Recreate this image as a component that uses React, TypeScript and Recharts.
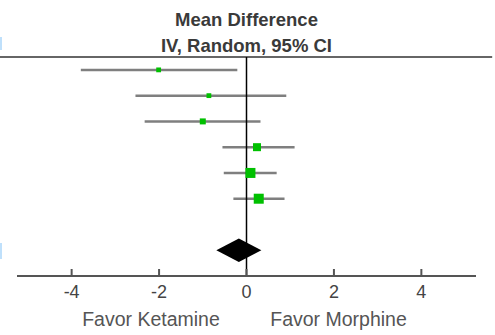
import React from "react";
import {
  ComposedChart,
  XAxis,
  YAxis,
  Scatter,
  ErrorBar,
  ReferenceLine,
  ReferenceArea,
  Customized,
} from "recharts";

// ---- data ----
const studyRows = [1, 2, 3, 4, 5, 6];
const meanDiff = [-2.01, -0.86, -1.0, 0.24, 0.09, 0.28];
const ciLower = [-3.79, -2.54, -2.33, -0.55, -0.52, -0.3];
const ciUpper = [-0.21, 0.91, 0.32, 1.1, 0.69, 0.87];
const weights = [7, 7, 10, 15, 20, 20];

const pooledRow = 8;
const pooledMean = -0.18;
const pooledLower = -0.69;
const pooledUpper = 0.34;

const xTicks = [-4, -2, 0, 2, 4];
const headerLines = ["Mean Difference", "IV, Random, 95% CI"];
const favorLeft = "Favor Ketamine";
const favorRight = "Favor Morphine";

const FONT = "'Liberation Sans', Arial, sans-serif";

const tableData = studyRows.map((row, i) => ({
  row,
  md: meanDiff[i],
  err: [meanDiff[i] - ciLower[i], ciUpper[i] - meanDiff[i]],
  w: weights[i],
}));

const SquareShape = (props: any) => {
  const { cx, cy, payload } = props;
  const s = 2 + payload.w * 0.4;
  return <rect x={cx - s / 2} y={cy - s / 2} width={s} height={s} fill="#00c000" />;
};

const EmptyShape = () => <g />;

const DiamondShape = (props: any) => {
  const { x, y, width, height } = props;
  const pts = [
    [x, y + height / 2],
    [x + width / 2, y],
    [x + width, y + height / 2],
    [x + width / 2, y + height],
  ]
    .map((p) => p.join(","))
    .join(" ");
  return <polygon points={pts} fill="#000" />;
};

const TickUp = (props: any) => {
  const { x, y, payload } = props;
  return (
    <g>
      <line x1={x} x2={x} y1={y - 7} y2={y} stroke="#555" strokeWidth={2} />
      <text
        x={x}
        y={y + 22}
        textAnchor="middle"
        fontFamily={FONT}
        fontSize={18}
        fill="#444"
      >
        {payload.value}
      </text>
    </g>
  );
};

const Decorations = () => (
  <g>
    <rect x={0} y={37} width={2} height={13} fill="#bfe0fb" />
    <rect x={0} y={243} width={2} height={16} fill="#bfe0fb" />
    <text
      x={246.5}
      y={26}
      textAnchor="middle"
      fontFamily={FONT}
      fontSize={18.5}
      fontWeight="bold"
      fill="#3a3a3a"
    >
      {headerLines[0]}
    </text>
    <text
      x={246.5}
      y={52}
      textAnchor="middle"
      fontFamily={FONT}
      fontSize={18.5}
      fontWeight="bold"
      fill="#3a3a3a"
    >
      {headerLines[1]}
    </text>
    <text
      x={151}
      y={326}
      textAnchor="middle"
      fontFamily={FONT}
      fontSize={19.5}
      fill="#555"
    >
      {favorLeft}
    </text>
    <text
      x={338.5}
      y={326}
      textAnchor="middle"
      fontFamily={FONT}
      fontSize={19.5}
      fill="#555"
    >
      {favorRight}
    </text>
  </g>
);

export default function App() {
  return (
    <div style={{ position: "absolute", left: 0, top: 0, background: "#fff" }}>
      <ComposedChart
        width={495}
        height={335}
        data={tableData}
        margin={{ top: 57, right: 19, bottom: 29, left: 17 }}
      >
        <XAxis
          type="number"
          dataKey="md"
          domain={[-5.25, 5.25]}
          ticks={xTicks}
          allowDataOverflow
          height={30}
          tickLine={false}
          tickSize={0}
          tickMargin={0}
          axisLine={{ stroke: "#555", strokeWidth: 2 }}
          tick={<TickUp />}
        />
        <YAxis
          type="number"
          dataKey="row"
          domain={[0.5, 9]}
          reversed
          hide
          width={0}
          allowDataOverflow
        />
        <ReferenceLine
          ifOverflow="visible"
          segment={[
            { x: -5.64, y: 0.5 },
            { x: 5.62, y: 0.5 },
          ]}
          stroke="#666"
          strokeWidth={2}
        />
        <Scatter
          data={tableData}
          dataKey="md"
          shape={EmptyShape}
          isAnimationActive={false}
        >
          <ErrorBar
            dataKey="err"
            direction="x"
            width={0}
            stroke="#7f7f7f"
            strokeWidth={2.5}
            isAnimationActive={false}
          />
        </Scatter>
        <ReferenceLine x={0} stroke="#000" strokeWidth={1.5} />
        <ReferenceArea
          x1={pooledLower}
          x2={pooledUpper}
          y1={pooledRow - 0.46}
          y2={pooledRow + 0.46}
          shape={DiamondShape}
          data-mean={pooledMean}
        />
        <Scatter
          data={tableData}
          dataKey="md"
          shape={SquareShape}
          isAnimationActive={false}
        />
        <Customized component={Decorations} />
      </ComposedChart>
    </div>
  );
}
